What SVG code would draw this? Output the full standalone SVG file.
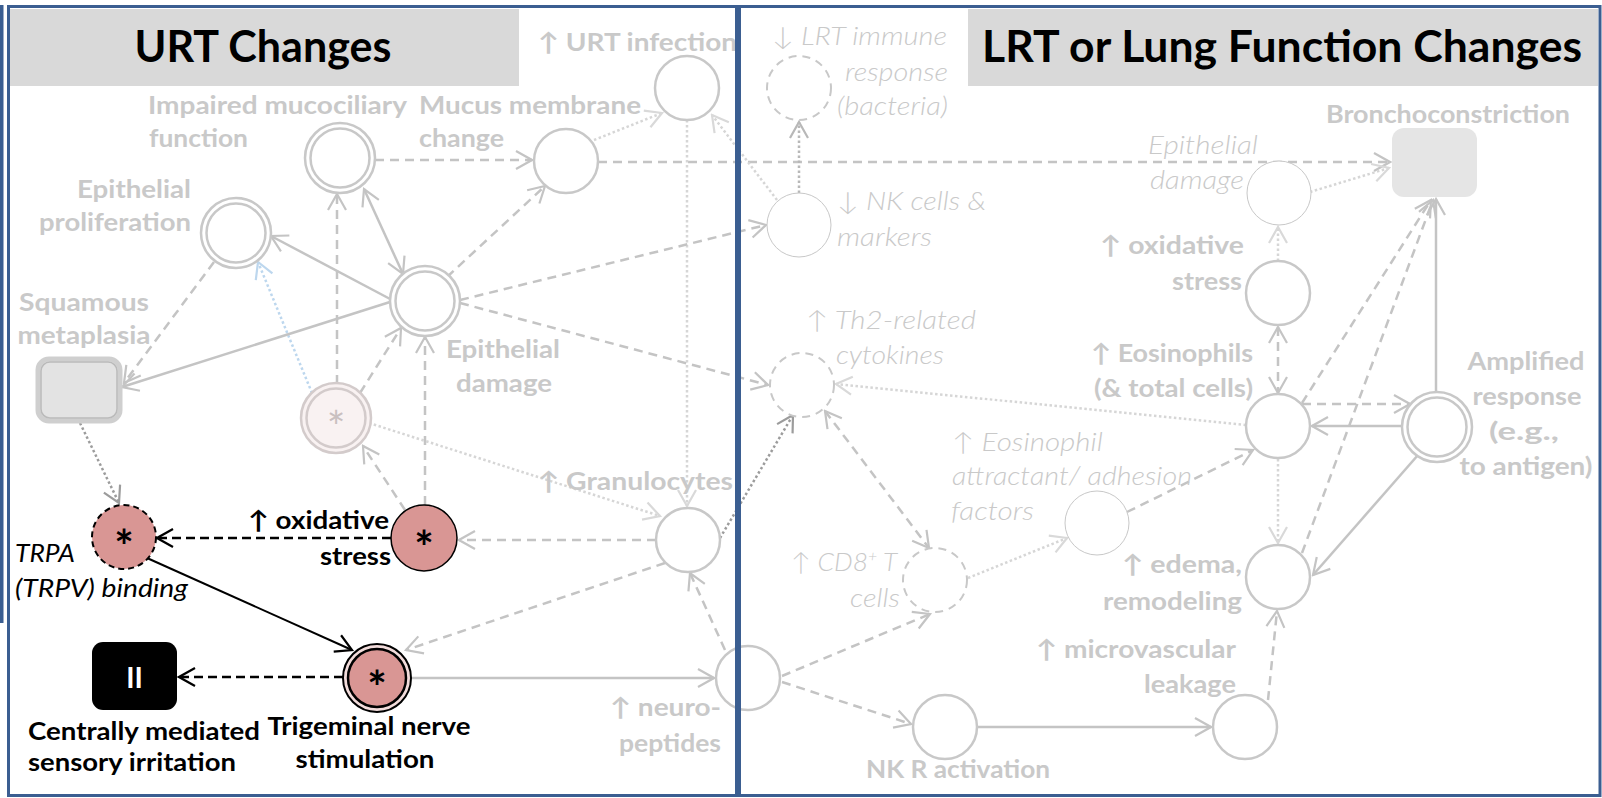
<svg xmlns="http://www.w3.org/2000/svg" width="1602" height="798" viewBox="0 0 1602 798">
<defs>
<style>
text{font-family:Lato,"Liberation Sans",sans-serif}
.gb{font-weight:bold;font-size:25px;fill:#c9c9c9}
.bb{font-weight:bold;font-size:25px;fill:#000}
.gi{font-style:italic;font-weight:300;font-size:25px;fill:#c9c9c9}
.bi{font-style:italic;font-size:25px;fill:#000}
.ttl{font-weight:bold;font-size:43px;fill:#000;text-anchor:middle}
.e{text-anchor:end}
.m{text-anchor:middle}
.c{fill:#fff;stroke:#c8c8c8;stroke-width:2.5}
.ci{fill:none;stroke:#c8c8c8;stroke-width:2.5}
.ct{fill:#fff;stroke:#c8c8c8;stroke-width:1}
.cd{fill:#fff;stroke:#c8c8c8;stroke-width:2;stroke-dasharray:8 6}
.s{fill:none;stroke:#c4c4c4;stroke-width:2.5}
.d{fill:none;stroke:#c4c4c4;stroke-width:2.5;stroke-dasharray:9 6}
.o{fill:none;stroke:#d6d6d6;stroke-width:2.5;stroke-dasharray:2.5 2.5}
.o2{fill:none;stroke:#b8b8b8;stroke-width:2.5;stroke-dasharray:2.5 2.5}
.od{fill:none;stroke:#9c9c9c;stroke-width:2.5;stroke-dasharray:2.5 2.5}
.ob{fill:none;stroke:#bdd7ee;stroke-width:2.5;stroke-dasharray:2.5 2.5}
.kd{fill:none;stroke:#000;stroke-width:2.5;stroke-dasharray:9 5}
.ks{fill:none;stroke:#000;stroke-width:2}
.pk{fill:#d99694}
.ast{font-weight:bold;font-size:46px;fill:#000;text-anchor:middle}
</style>
<marker id="mg" viewBox="-18 -11 20 22" markerWidth="20" markerHeight="22" refX="0" refY="0" orient="auto-start-reverse" markerUnits="userSpaceOnUse"><path d="M-16,-9 L0,0 L-16,9" fill="none" stroke="#c4c4c4" stroke-width="2.2"/></marker>
<marker id="ml" viewBox="-18 -11 20 22" markerWidth="20" markerHeight="22" refX="0" refY="0" orient="auto-start-reverse" markerUnits="userSpaceOnUse"><path d="M-16,-9 L0,0 L-16,9" fill="none" stroke="#d9d9d9" stroke-width="2.2"/></marker>
<marker id="mm" viewBox="-18 -11 20 22" markerWidth="20" markerHeight="22" refX="0" refY="0" orient="auto-start-reverse" markerUnits="userSpaceOnUse"><path d="M-16,-9 L0,0 L-16,9" fill="none" stroke="#b8b8b8" stroke-width="2.2"/></marker>
<marker id="md" viewBox="-18 -11 20 22" markerWidth="20" markerHeight="22" refX="0" refY="0" orient="auto-start-reverse" markerUnits="userSpaceOnUse"><path d="M-16,-9 L0,0 L-16,9" fill="none" stroke="#9c9c9c" stroke-width="2.2"/></marker>
<marker id="mb" viewBox="-18 -11 20 22" markerWidth="20" markerHeight="22" refX="0" refY="0" orient="auto-start-reverse" markerUnits="userSpaceOnUse"><path d="M-16,-9 L0,0 L-16,9" fill="none" stroke="#bdd7ee" stroke-width="2.2"/></marker>
<marker id="mk" viewBox="-18 -11 20 22" markerWidth="20" markerHeight="22" refX="0" refY="0" orient="auto-start-reverse" markerUnits="userSpaceOnUse"><path d="M-16,-9 L0,0 L-16,9" fill="none" stroke="#000" stroke-width="2.2"/></marker>
</defs>
<rect width="1602" height="798" fill="#fff"/>

<g id="titles">
<rect x="10" y="9" width="509" height="77" fill="#d9d9d9"/>
<text class="ttl" x="263" y="62" textLength="257" lengthAdjust="spacingAndGlyphs">URT Changes</text>
<rect x="968" y="9" width="630" height="77" fill="#d9d9d9"/>
<text class="ttl" x="1282" y="62" textLength="600" lengthAdjust="spacingAndGlyphs">LRT or Lung Function Changes</text>
</g>

<g id="connectors">
<line class="d" x1="375" y1="160" x2="532" y2="160" marker-end="url(#mg)"/>
<line class="o" x1="594" y1="140" x2="662" y2="113" marker-end="url(#ml)"/>
<line class="d" x1="598" y1="162" x2="1390" y2="162" marker-end="url(#mg)"/>
<line class="s" x1="392" y1="300" x2="271" y2="236" marker-end="url(#mg)"/>
<line class="s" x1="364" y1="189" x2="403" y2="274" marker-start="url(#mg)" marker-end="url(#mg)"/>
<line class="d" x1="337" y1="384" x2="337" y2="194" marker-end="url(#mg)"/>
<line class="d" x1="360" y1="393" x2="401" y2="328" marker-end="url(#mg)"/>
<line class="ob" x1="312" y1="393" x2="258" y2="262" marker-end="url(#mb)"/>
<line class="d" x1="214" y1="262" x2="124" y2="383" marker-end="url(#mg)"/>
<line class="s" x1="390" y1="302" x2="122" y2="387" marker-end="url(#mg)"/>
<line class="od" x1="80" y1="423" x2="119" y2="503" marker-end="url(#md)"/>
<line class="kd" x1="391" y1="538" x2="157" y2="538" marker-end="url(#mk)"/>
<line class="d" x1="405" y1="510" x2="363" y2="446" marker-end="url(#mg)"/>
<line class="d" x1="425" y1="505" x2="425" y2="337" marker-end="url(#mg)"/>
<line class="d" x1="656" y1="540" x2="459" y2="540" marker-end="url(#mg)"/>
<line class="o" x1="369" y1="423" x2="660" y2="516" marker-end="url(#ml)"/>
<line class="o" x1="687" y1="120" x2="687" y2="506" marker-end="url(#ml)"/>
<line class="d" x1="460" y1="300" x2="766" y2="225" marker-end="url(#mg)"/>
<line class="d" x1="460" y1="303" x2="768" y2="385" marker-end="url(#mg)"/>
<line class="d" x1="447" y1="277" x2="545" y2="186" marker-end="url(#mg)"/>
<line class="o" x1="777" y1="200" x2="712" y2="115" marker-end="url(#ml)"/>
<line class="o2" x1="799" y1="193" x2="799" y2="122" marker-end="url(#mm)"/>
<line class="d" x1="665" y1="563" x2="406" y2="650" marker-end="url(#mg)"/>
<line class="od" x1="720" y1="538" x2="793" y2="415" marker-end="url(#md)"/>
<line class="d" x1="725" y1="650" x2="690" y2="573" marker-end="url(#mg)"/>
<line class="s" x1="411" y1="678" x2="714" y2="678" marker-end="url(#mg)"/>
<line class="kd" x1="343" y1="677" x2="179" y2="677" marker-end="url(#mk)"/>
<line class="ks" x1="147" y1="558" x2="352" y2="650" marker-end="url(#mk)"/>
<line class="d" x1="782" y1="676" x2="930" y2="614" marker-end="url(#mg)"/>
<line class="d" x1="782" y1="682" x2="911" y2="724" marker-end="url(#mg)"/>
<line class="s" x1="977" y1="727" x2="1211" y2="727" marker-end="url(#mg)"/>
<line class="d" x1="1268" y1="700" x2="1277" y2="611" marker-end="url(#mg)"/>
<line class="d" x1="825" y1="411" x2="929" y2="548" marker-start="url(#mg)" marker-end="url(#mg)"/>
<line class="o" x1="968" y1="578" x2="1067" y2="538" marker-end="url(#ml)"/>
<line class="d" x1="1127" y1="512" x2="1253" y2="450" marker-end="url(#mg)"/>
<line class="o" x1="1246" y1="425" x2="836" y2="384" marker-end="url(#ml)"/>
<line class="d" x1="1278" y1="327" x2="1278" y2="393" marker-start="url(#mg)" marker-end="url(#mg)"/>
<line class="o" x1="1278" y1="261" x2="1278" y2="227" marker-end="url(#ml)"/>
<line class="o" x1="1310" y1="192" x2="1389" y2="168" marker-end="url(#ml)"/>
<line class="d" x1="1302" y1="404" x2="1410" y2="404" marker-end="url(#mg)"/>
<line class="s" x1="1404" y1="426" x2="1312" y2="426" marker-end="url(#mg)"/>
<line class="s" x1="1436" y1="392" x2="1436" y2="199" marker-end="url(#mg)"/>
<line class="s" x1="1418" y1="455" x2="1313" y2="575" marker-end="url(#mg)"/>
<line class="o" x1="1278" y1="459" x2="1278" y2="543" marker-end="url(#ml)"/>
<line class="d" x1="1302" y1="403" x2="1431" y2="200" marker-end="url(#mg)"/>
<line class="d" x1="1302" y1="553" x2="1433" y2="200" marker-end="url(#mg)"/>
</g>

<g id="urt-infection"><circle class="c" cx="687" cy="88" r="32"/><text class="gb" x="538" y="51" textLength="199" lengthAdjust="spacingAndGlyphs">↑ URT infection</text></g>
<g id="impaired-mucociliary"><circle class="c" cx="340" cy="158" r="35"/><circle class="ci" cx="340" cy="158" r="29.5"/><text class="gb" x="148" y="114" textLength="259" lengthAdjust="spacingAndGlyphs">Impaired mucociliary</text><text class="gb" x="149" y="147" textLength="99" lengthAdjust="spacingAndGlyphs">function</text></g>
<g id="mucus-membrane"><circle class="c" cx="566" cy="161" r="32"/><text class="gb" x="419" y="114" textLength="222" lengthAdjust="spacingAndGlyphs">Mucus membrane</text><text class="gb" x="419" y="147" textLength="85" lengthAdjust="spacingAndGlyphs">change</text></g>
<g id="epithelial-proliferation"><circle class="c" cx="236" cy="233" r="35"/><circle class="ci" cx="236" cy="233" r="29.5"/><text class="gb e" x="191" y="198" textLength="114" lengthAdjust="spacingAndGlyphs">Epithelial</text><text class="gb e" x="191" y="231" textLength="152" lengthAdjust="spacingAndGlyphs">proliferation</text></g>
<g id="epithelial-damage"><circle class="c" cx="425" cy="301" r="35"/><circle class="ci" cx="425" cy="301" r="29.5"/><text class="gb m" x="503" y="358" textLength="114" lengthAdjust="spacingAndGlyphs">Epithelial</text><text class="gb m" x="504" y="392" textLength="96" lengthAdjust="spacingAndGlyphs">damage</text></g>
<g id="squamous-metaplasia"><rect x="38" y="359" width="82" height="62" rx="11" fill="#e3e3e3" stroke="#cfcfcf" stroke-width="5"/><rect x="41" y="362" width="76" height="56" rx="9" fill="none" stroke="#bababa" stroke-width="1.5"/><text class="gb m" x="84" y="311" textLength="130" lengthAdjust="spacingAndGlyphs">Squamous</text><text class="gb m" x="84" y="344" textLength="133" lengthAdjust="spacingAndGlyphs">metaplasia</text></g>
<g id="faded-asterisk"><circle cx="336" cy="418" r="35" fill="#f9f2f2" stroke="#d3cbcb" stroke-width="2.5"/><circle cx="336" cy="418" r="29.5" fill="none" stroke="#d3cbcb" stroke-width="2.5"/><text x="336" y="443" font-size="44" fill="#c9c0c0" text-anchor="middle">*</text></g>
<g id="trpa-binding"><circle class="pk" cx="124" cy="537" r="32" stroke="#000" stroke-width="2" stroke-dasharray="6 4"/><text class="ast" x="124" y="563">*</text><text class="bi" x="15" y="562" textLength="60" lengthAdjust="spacingAndGlyphs">TRPA</text><text class="bi" x="15" y="597" textLength="173" lengthAdjust="spacingAndGlyphs">(TRPV) binding</text></g>
<g id="oxidative-stress-urt"><circle class="pk" cx="424" cy="538" r="33" stroke="#000" stroke-width="1.5"/><text class="ast" x="424" y="564">*</text><text class="bb e" x="389" y="529" textLength="141" lengthAdjust="spacingAndGlyphs">↑ oxidative</text><text class="bb e" x="391" y="565" textLength="71" lengthAdjust="spacingAndGlyphs">stress</text></g>
<g id="granulocytes"><circle class="c" cx="688" cy="540" r="32"/><text class="gb" x="538" y="490" textLength="195" lengthAdjust="spacingAndGlyphs">↑ Granulocytes</text></g>
<g id="trigeminal"><circle cx="377" cy="678" r="34" fill="#f2dcdb" stroke="#000" stroke-width="2"/><circle class="pk" cx="377" cy="678" r="29" stroke="#000" stroke-width="2.5"/><text class="ast" x="377" y="704">*</text><text class="bb m" x="369" y="735" textLength="203" lengthAdjust="spacingAndGlyphs">Trigeminal nerve</text><text class="bb m" x="365" y="768" textLength="139" lengthAdjust="spacingAndGlyphs">stimulation</text></g>
<g id="central-irritation"><rect x="92" y="642" width="85" height="68" rx="11" fill="#000"/><text x="134.5" y="688" font-weight="bold" font-size="28" fill="#fff" text-anchor="middle">II</text><text class="bb" x="28" y="740" textLength="232" lengthAdjust="spacingAndGlyphs">Centrally mediated</text><text class="bb" x="28" y="771" textLength="208" lengthAdjust="spacingAndGlyphs">sensory irritation</text></g>
<g id="neuropeptides"><circle class="c" cx="748" cy="678" r="32"/><text class="gb e" x="721" y="716" textLength="111" lengthAdjust="spacingAndGlyphs">↑ neuro-</text><text class="gb e" x="721" y="752" textLength="102" lengthAdjust="spacingAndGlyphs">peptides</text></g>

<g id="lrt-immune"><circle class="cd" cx="799" cy="88" r="32"/><text class="gi" x="772" y="45" textLength="175" lengthAdjust="spacingAndGlyphs">↓ LRT immune</text><text class="gi e" x="948" y="81" textLength="103" lengthAdjust="spacingAndGlyphs">response</text><text class="gi e" x="948" y="115" textLength="111" lengthAdjust="spacingAndGlyphs">(bacteria)</text></g>
<g id="nk-cells"><circle class="ct" cx="799" cy="225" r="32"/><text class="gi" x="837" y="210" textLength="149" lengthAdjust="spacingAndGlyphs">↓ NK cells &amp;</text><text class="gi" x="837" y="246" textLength="95" lengthAdjust="spacingAndGlyphs">markers</text></g>
<g id="epithelial-damage-lrt"><circle class="ct" cx="1279" cy="193" r="32"/><text class="gi" x="1148" y="154" textLength="110" lengthAdjust="spacingAndGlyphs">Epithelial</text><text class="gi" x="1150" y="189" textLength="94" lengthAdjust="spacingAndGlyphs">damage</text></g>
<g id="bronchoconstriction"><rect x="1392" y="128" width="85" height="69" rx="12" fill="#e5e5e5"/><text class="gb" x="1326" y="123" textLength="244" lengthAdjust="spacingAndGlyphs">Bronchoconstriction</text></g>
<g id="oxidative-stress-lrt"><circle class="c" cx="1278" cy="293" r="32"/><text class="gb e" x="1244" y="254" textLength="144" lengthAdjust="spacingAndGlyphs">↑ oxidative</text><text class="gb e" x="1242" y="290" textLength="70" lengthAdjust="spacingAndGlyphs">stress</text></g>
<g id="th2-cytokines"><circle class="cd" cx="802" cy="385" r="32"/><text class="gi" x="806" y="329" textLength="170" lengthAdjust="spacingAndGlyphs">↑ Th2-related</text><text class="gi" x="836" y="364" textLength="108" lengthAdjust="spacingAndGlyphs">cytokines</text></g>
<g id="eosinophils"><circle class="c" cx="1278" cy="426" r="32"/><text class="gb e" x="1253" y="362" textLength="162" lengthAdjust="spacingAndGlyphs">↑ Eosinophils</text><text class="gb e" x="1253" y="397" textLength="159" lengthAdjust="spacingAndGlyphs">(&amp; total cells)</text></g>
<g id="amplified-response"><circle class="c" cx="1437" cy="427" r="35"/><circle class="ci" cx="1437" cy="427" r="29.5"/><text class="gb m" x="1526" y="370" textLength="117" lengthAdjust="spacingAndGlyphs">Amplified</text><text class="gb m" x="1527" y="405" textLength="109" lengthAdjust="spacingAndGlyphs">response</text><text class="gb m" x="1524" y="440" textLength="70" lengthAdjust="spacingAndGlyphs">(e.g.,</text><text class="gb m" x="1526" y="475" textLength="133" lengthAdjust="spacingAndGlyphs">to antigen)</text></g>
<g id="eosinophil-attractant"><circle class="ct" cx="1097" cy="523" r="32"/><text class="gi" x="952" y="451" textLength="151" lengthAdjust="spacingAndGlyphs">↑ Eosinophil</text><text class="gi" x="952" y="485" textLength="240" lengthAdjust="spacingAndGlyphs">attractant/ adhesion</text><text class="gi" x="951" y="520" textLength="83" lengthAdjust="spacingAndGlyphs">factors</text></g>
<g id="cd8-cells"><circle class="cd" cx="935" cy="580" r="32"/><text class="gi" x="791" y="571" textLength="106" lengthAdjust="spacingAndGlyphs">↑ CD8<tspan font-size="15" baseline-shift="super">+</tspan> T</text><text class="gi e" x="900" y="607" textLength="50" lengthAdjust="spacingAndGlyphs">cells</text></g>
<g id="edema-remodeling"><circle class="c" cx="1278" cy="577" r="32"/><text class="gb e" x="1242" y="573" textLength="120" lengthAdjust="spacingAndGlyphs">↑ edema,</text><text class="gb e" x="1242" y="610" textLength="139" lengthAdjust="spacingAndGlyphs">remodeling</text></g>
<g id="nk-r-activation"><circle class="c" cx="945" cy="727" r="32"/><text class="gb" x="866" y="778" textLength="184" lengthAdjust="spacingAndGlyphs">NK R activation</text></g>
<g id="microvascular-leakage"><circle class="c" cx="1245" cy="727" r="32"/><text class="gb e" x="1236" y="658" textLength="200" lengthAdjust="spacingAndGlyphs">↑ microvascular</text><text class="gb e" x="1236" y="693" textLength="92" lengthAdjust="spacingAndGlyphs">leakage</text></g>

<g id="frame" fill="none" stroke="#3b5e91">
<rect x="0" y="5" width="3.5" height="618" fill="#3b5e91" stroke="none"/>
<rect x="8.5" y="6.5" width="728" height="789" stroke-width="3"/>
<rect x="739.5" y="6.5" width="860.5" height="789" stroke-width="3"/>
</g>
</svg>
